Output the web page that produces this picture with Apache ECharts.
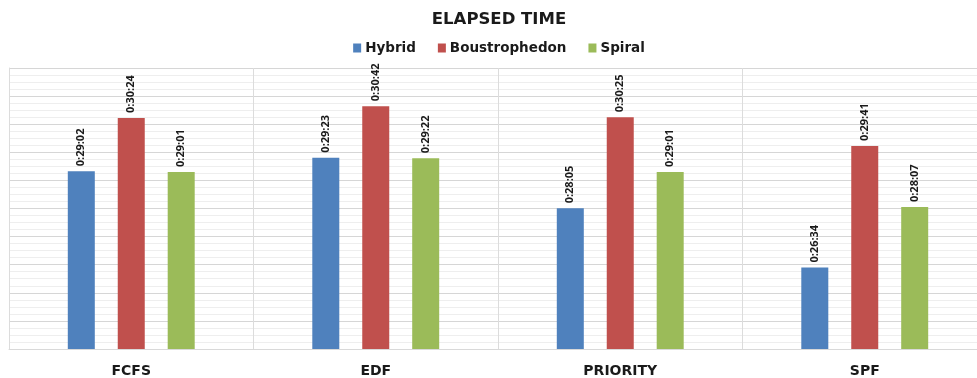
<!DOCTYPE html>
<html>
<head>
<meta charset="utf-8">
<script src="https://cdn.jsdelivr.net/npm/echarts@6/dist/echarts.min.js"></script>
<style>
  html, body { margin: 0; padding: 0; background: #fff; overflow: hidden; }
  #chart { width: 998px; height: 378px; }
</style>
</head>
<body>
<div id="chart"></div>
<script>
// Elapsed time per scheduling policy, in seconds
const categories = ['FCFS', 'EDF', 'PRIORITY', 'SPF'];
const hybrid = [1742, 1763, 1685, 1594];        // 0:29:02 0:29:23 0:28:05 0:26:34
const boustrophedon = [1824, 1842, 1825, 1781]; // 0:30:24 0:30:42 0:30:25 0:29:41
const spiral = [1741, 1762, 1741, 1687];        // 0:29:01 0:29:22 0:29:01 0:28:07

// value axis in seconds (0.0005 day steps)
const axisMin = 1468.8;
const axisMax = 1900.8;
const axisStep = 43.2;

function fmt(sec) {
  const s = Math.round(sec);
  const h = Math.floor(s / 3600);
  const m = Math.floor((s % 3600) / 60);
  const r = s % 60;
  return h + ':' + String(m).padStart(2, '0') + ':' + String(r).padStart(2, '0');
}

const FONT = '"DejaVu Sans", "Open Sans", sans-serif';
const INK = '#1a1a1a';

const labelCfg = {
  show: true,
  position: 'top',
  rotate: 90,
  align: 'left',
  verticalAlign: 'middle',
  distance: 5,
  fontFamily: '"Open Sans", sans-serif',
  fontWeight: 'bold',
  fontSize: 11,
  color: INK,
  formatter: p => fmt(p.value)
};

function bar(name, data, color) {
  return {
    name, type: 'bar', data,
    barWidth: 27, barGap: '85%',
    itemStyle: { color },
    label: labelCfg
  };
}

const chart = echarts.init(document.getElementById('chart'), null, { renderer: 'canvas' });
chart.setOption({
  animation: false,
  title: {
    text: 'ELAPSED TIME',
    left: 'center', top: 6,
    textStyle: { fontFamily: FONT, fontWeight: 'bold', fontSize: 16.5, color: INK }
  },
  legend: {
    top: 36, left: 'center',
    itemWidth: 8, itemHeight: 9, itemGap: 22,
    icon: 'rect',
    textStyle: { fontFamily: FONT, fontWeight: 'bold', fontSize: 13.5, color: INK, padding: [0, 0, 0, -1] },
    data: ['Hybrid', 'Boustrophedon', 'Spiral']
  },
  grid: { left: 9, top: 68, bottom: 27, width: 978, containLabel: false },
  xAxis: {
    type: 'category',
    data: categories,
    axisTick: { show: false },
    axisLine: { lineStyle: { color: '#d9d9d9' } },
    axisLabel: { fontFamily: FONT, fontWeight: 'bold', fontSize: 14, color: INK, margin: 15 },
    splitLine: { show: true, lineStyle: { color: '#dcdcdc' } }
  },
  yAxis: {
    type: 'value',
    min: axisMin, max: axisMax, interval: axisStep,
    axisLine: { show: true, lineStyle: { color: '#dcdcdc' } },
    axisTick: { show: false },
    axisLabel: { show: false },
    splitLine: { lineStyle: { color: '#d6d6d6' } },
    minorTick: { show: false, splitNumber: 4 },
    minorSplitLine: { show: true, lineStyle: { color: '#eeeeee' } }
  },
  series: [
    bar('Hybrid', hybrid, '#4f81bd'),
    bar('Boustrophedon', boustrophedon, '#c0504d'),
    bar('Spiral', spiral, '#9bbb59')
  ]
});
</script>
</body>
</html>
